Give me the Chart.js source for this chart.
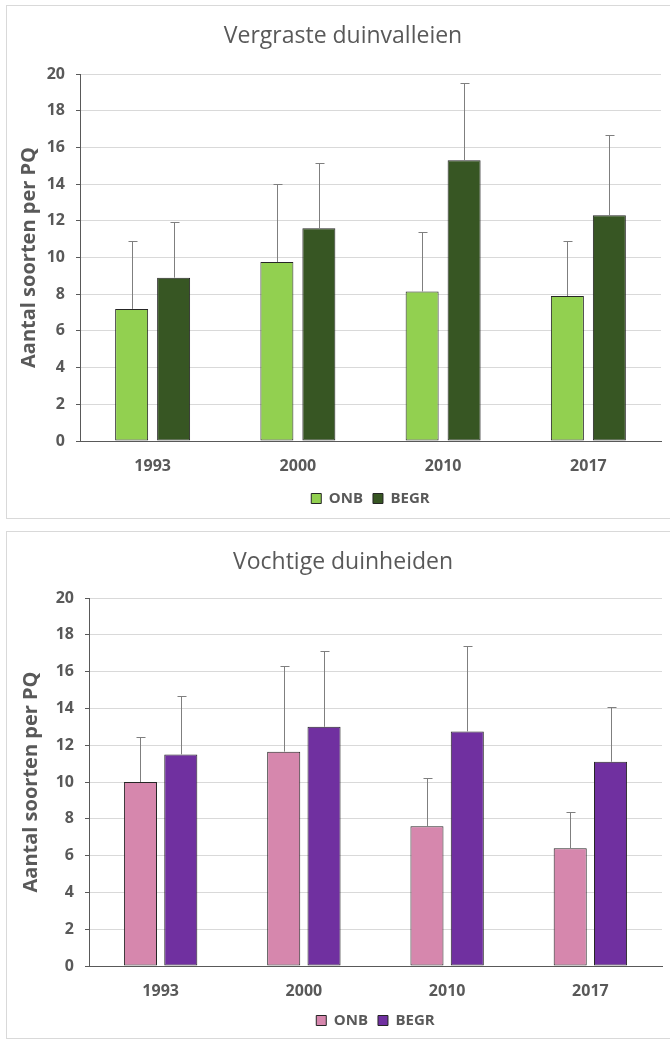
<!DOCTYPE html>
<html>
<head>
<meta charset="utf-8">
<script src="https://cdn.jsdelivr.net/npm/chart.js@4.4.1/dist/chart.umd.min.js"></script>
<style>
  html, body { margin: 0; padding: 0; background: #fff; overflow: hidden; }
  .box { position: absolute; left: 6px; width: 672px; border: 1px solid #d9d9d9; background: #fff; }
  #box-top { top: 5px; height: 512px; }
  #box-bottom { top: 531px; height: 506px; }
  canvas { display: block; }
</style>
</head>
<body>
<div class="box" id="box-top"><canvas id="chart-gras"></canvas></div>
<div class="box" id="box-bottom"><canvas id="chart-heide"></canvas></div>
<script>
const YEARS = ['1993', '2000', '2010', '2017'];
const SERIES_LABELS = ['ONB', 'BEGR'];

// Vergraste duinvalleien
const GRAS_ONB = [7.2, 9.75, 8.15, 7.9];
const GRAS_BEGR = [8.9, 11.6, 15.3, 12.3];
const GRAS_ONB_SD = [3.7, 4.25, 3.25, 3.0];
const GRAS_BEGR_SD = [3.05, 3.55, 4.2, 4.4];

// Vochtige duinheiden
const HEIDE_ONB = [10.0, 11.65, 7.6, 6.4];
const HEIDE_BEGR = [11.5, 13.0, 12.75, 11.1];
const HEIDE_ONB_SD = [2.45, 4.65, 2.6, 1.95];
const HEIDE_BEGR_SD = [3.15, 4.1, 4.65, 2.95];

const Y_MIN = 0;
const Y_MAX = 20;
const Y_STEP = 2;

const FONT = "'Open Sans', sans-serif";
const TEXT_COLOR = '#595959';

// upper error bars only, like the excel original
const errorBarPlugin = {
  id: 'errorBars',
  afterDatasetsDraw(chart) {
    const ctx = chart.ctx;
    const yScale = chart.scales.y;
    ctx.save();
    ctx.strokeStyle = '#7f7f7f';
    ctx.lineWidth = 1;
    chart.data.datasets.forEach((ds, i) => {
      const meta = chart.getDatasetMeta(i);
      meta.data.forEach((bar, j) => {
        const x = Math.round(bar.x) + 0.5;
        const top = Math.round(yScale.getPixelForValue(ds.data[j] + ds.errors[j])) + 0.5;
        ctx.beginPath();
        ctx.moveTo(x, bar.y);
        ctx.lineTo(x, top);
        ctx.moveTo(x - 4, top);
        ctx.lineTo(x + 5, top);
        ctx.stroke();
      });
    });
    ctx.restore();
  }
};

function buildChart(canvasId, title, onb, begr, onbSd, begrSd, colors, lay) {
  const config = {
    type: 'bar',
    data: {
      labels: YEARS,
      datasets: [
        {
          label: SERIES_LABELS[0],
          data: onb,
          errors: onbSd,
          backgroundColor: colors[0],
          borderColor: '#262626',
          borderWidth: 1,
          borderSkipped: false,
        },
        {
          label: SERIES_LABELS[1],
          data: begr,
          errors: begrSd,
          backgroundColor: colors[1],
          borderColor: '#262626',
          borderWidth: 1,
          borderSkipped: false,
        }
      ]
    },
    options: {
      responsive: true,
      maintainAspectRatio: false,
      animation: false,
      categoryPercentage: lay.catPct,
      barPercentage: lay.barPct,
      layout: {
        padding: { left: 0, right: 0, top: 0, bottom: lay.bottom }
      },
      plugins: {
        tooltip: { enabled: false },
        title: {
          display: true,
          text: title,
          color: TEXT_COLOR,
          font: { family: FONT, size: 23, weight: 'normal' },
          padding: { top: 17, bottom: lay.titleBottom }
        },
        legend: {
          display: true,
          position: 'bottom',
          fullSize: false,
          labels: {
            boxWidth: 10,
            boxHeight: 10,
            padding: 10,
            color: TEXT_COLOR,
            font: { family: FONT, size: 15, weight: 'bold' }
          }
        }
      },
      scales: {
        x: {
          grid: { display: false, drawTicks: false },
          border: { display: true, color: '#595959', width: 1 },
          ticks: {
            padding: 16,
            color: TEXT_COLOR,
            font: { family: FONT, size: 16, weight: 'bold' }
          },
          afterFit(scale) { scale.height = lay.xHeight; }
        },
        y: {
          min: Y_MIN,
          max: Y_MAX,
          grid: { color: '#d9d9d9', tickColor: '#595959', tickLength: 4 },
          border: { display: true, color: '#595959', width: 1 },
          ticks: {
            stepSize: Y_STEP,
            padding: 11,
            color: TEXT_COLOR,
            font: { family: FONT, size: 16, weight: 'bold' }
          },
          title: {
            display: true,
            text: 'Aantal soorten per PQ',
            color: TEXT_COLOR,
            font: { family: FONT, size: 20, weight: 'bold' },
            padding: { top: lay.yTitlePad, bottom: 0 }
          },
          afterFit(scale) { scale.width = lay.yWidth; }
        },
        // empty right axis: keeps the plot clear of the right edge while the title stays centred on the frame
        yRight: {
          position: 'right',
          grid: { display: false },
          border: { display: false },
          ticks: { display: false },
          afterFit(scale) { scale.width = lay.right; }
        }
      }
    },
    plugins: [errorBarPlugin]
  };
  return new Chart(document.getElementById(canvasId), config);
}

buildChart('chart-gras', 'Vergraste duinvalleien',
  GRAS_ONB, GRAS_BEGR, GRAS_ONB_SD, GRAS_BEGR_SD,
  ['#92d050', '#375623'],
  { catPct: 0.578, barPct: 0.786, right: 18, bottom: 2, titleBottom: 23.4, xHeight: 40, yWidth: 73, yTitlePad: 10 });

buildChart('chart-heide', 'Vochtige duinheiden',
  HEIDE_ONB, HEIDE_BEGR, HEIDE_ONB_SD, HEIDE_BEGR_SD,
  ['#d687ad', '#7030a0'],
  { catPct: 0.563, barPct: 0.82, right: 17, bottom: 0, titleBottom: 21.4, xHeight: 37, yWidth: 82, yTitlePad: 12 });
</script>
</body>
</html>
